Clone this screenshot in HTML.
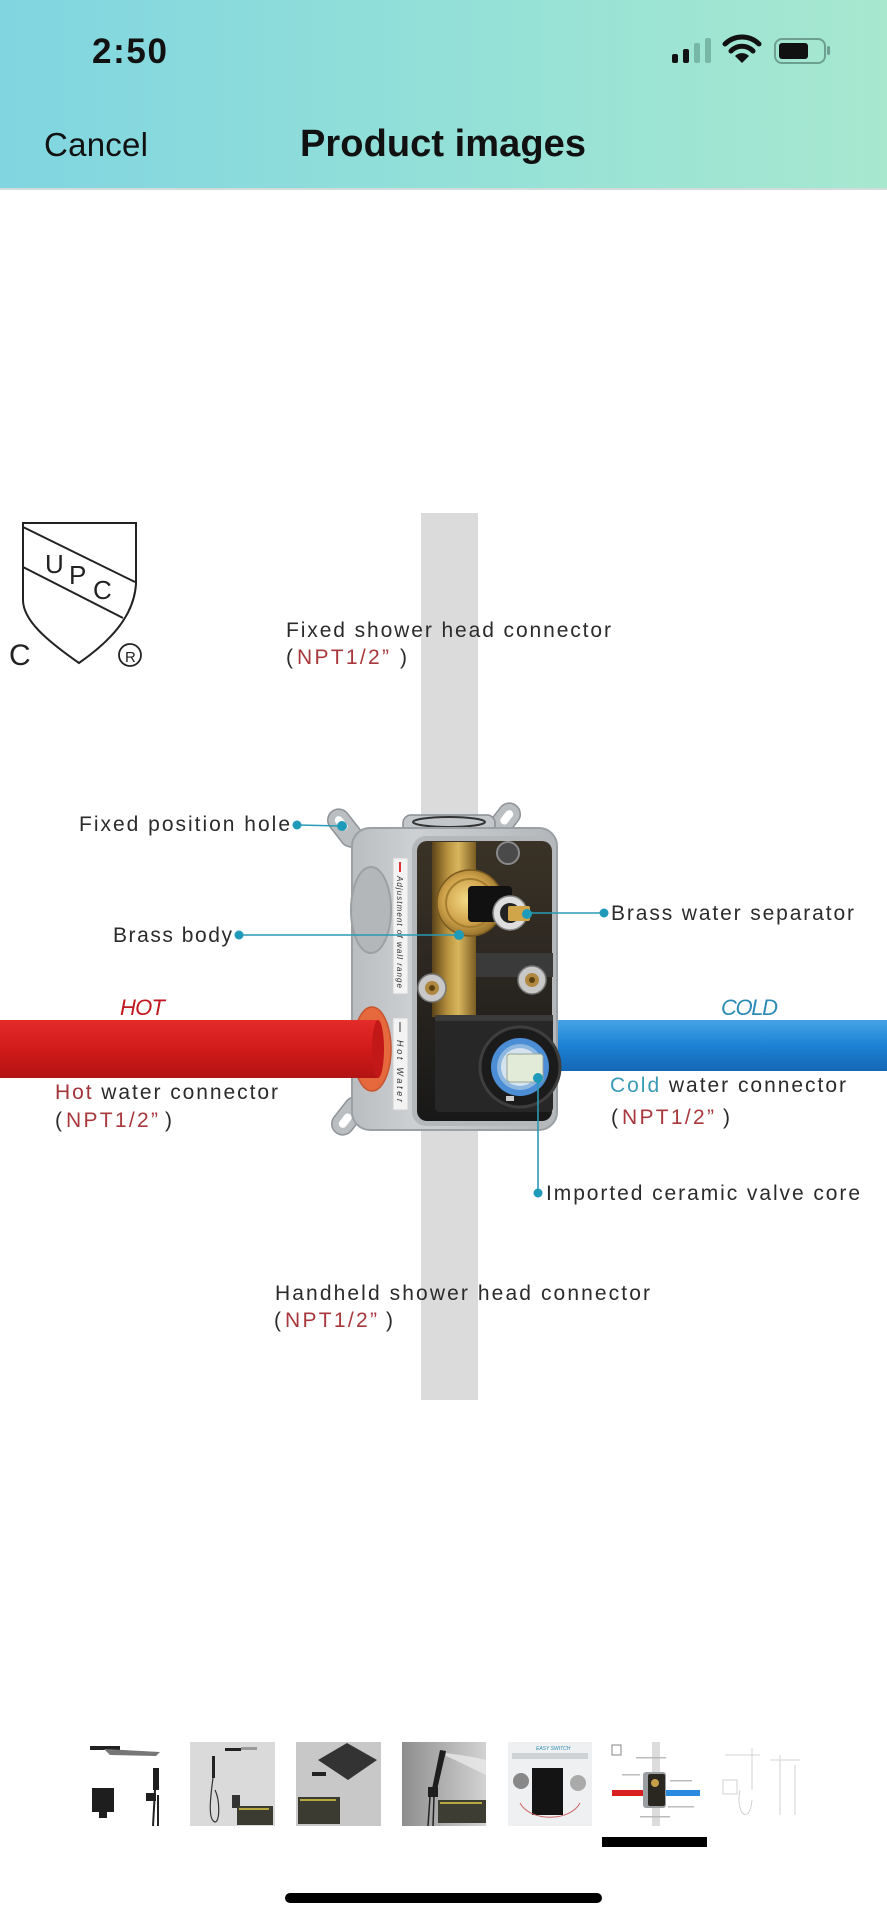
<!DOCTYPE html>
<html><head><meta charset="utf-8"><style>
html,body{margin:0;padding:0;background:#fff;}
body{width:887px;height:1920px;overflow:hidden;}
svg{display:block;}
text{font-family:"Liberation Sans",sans-serif;}
</style></head><body>
<svg width="887" height="1920" viewBox="0 0 887 1920" xmlns="http://www.w3.org/2000/svg">
<defs>
 <linearGradient id="hdr" x1="0" y1="0" x2="1" y2="0">
  <stop offset="0" stop-color="#80d5e0"/>
  <stop offset="0.5" stop-color="#93e0d8"/>
  <stop offset="1" stop-color="#a7e8cf"/>
 </linearGradient>
 <linearGradient id="red" x1="0" y1="0" x2="0" y2="1">
  <stop offset="0" stop-color="#e42c2a"/><stop offset="0.5" stop-color="#d11a1a"/><stop offset="1" stop-color="#b31313"/>
 </linearGradient>
 <linearGradient id="blue" x1="0" y1="0" x2="0" y2="1">
  <stop offset="0" stop-color="#45a4e6"/><stop offset="0.5" stop-color="#1d82d4"/><stop offset="1" stop-color="#1567b6"/>
 </linearGradient>
 <linearGradient id="box" x1="0" y1="0" x2="1" y2="0">
  <stop offset="0" stop-color="#b9bdc0"/><stop offset="0.3" stop-color="#cdd0d3"/><stop offset="1" stop-color="#b3b7ba"/>
 </linearGradient>
 <linearGradient id="cav" x1="0" y1="0" x2="0" y2="1">
  <stop offset="0" stop-color="#3a3226"/><stop offset="0.5" stop-color="#2a2620"/><stop offset="1" stop-color="#181818"/>
 </linearGradient>
 <linearGradient id="brass" x1="0" y1="0" x2="1" y2="0">
  <stop offset="0" stop-color="#5a4318"/><stop offset="0.35" stop-color="#b8913e"/><stop offset="0.6" stop-color="#d8b65e"/><stop offset="1" stop-color="#7a5c22"/>
 </linearGradient>
 <radialGradient id="nut" cx="0.45" cy="0.45" r="0.6">
  <stop offset="0" stop-color="#f3d985"/><stop offset="0.6" stop-color="#cfa24a"/><stop offset="1" stop-color="#8a6826"/>
 </radialGradient>
 <linearGradient id="t4" x1="0" y1="0" x2="1" y2="0">
  <stop offset="0" stop-color="#8e8e8e"/><stop offset="1" stop-color="#d2d2d2"/>
 </linearGradient>
</defs>

<rect width="887" height="1920" fill="#fff"/>

<!-- Header -->
<rect width="887" height="189" fill="url(#hdr)"/>
<rect y="188" width="887" height="2" fill="#d3dcdc"/>
<text x="92" y="63" font-size="35" font-weight="700" fill="#111" textLength="75">2:50</text>
<!-- signal -->
<rect x="672" y="54" width="6" height="9" rx="2" fill="#111"/>
<rect x="683" y="49" width="6" height="14" rx="2" fill="#111"/>
<rect x="694" y="43" width="6" height="20" rx="2" fill="#77b7a6"/>
<rect x="705" y="38" width="6" height="25" rx="2" fill="#77b7a6"/>
<!-- wifi -->
<path d="M725 44 A24 24 0 0 1 759 44" fill="none" stroke="#111" stroke-width="5" stroke-linecap="round"/>
<path d="M731 51 A15 15 0 0 1 753 51" fill="none" stroke="#111" stroke-width="5" stroke-linecap="round"/>
<path d="M735 56 L742 63 L749 56 A10 10 0 0 0 735 56 Z" fill="#111"/>
<!-- battery -->
<rect x="775" y="39" width="50" height="24" rx="7" fill="none" stroke="#6d9f90" stroke-width="2"/>
<rect x="779" y="43" width="29" height="16" rx="3" fill="#111"/>
<rect x="827" y="46" width="3" height="9" rx="1.5" fill="#6d9f90"/>
<text x="44" y="156" font-size="33" fill="#111" textLength="104">Cancel</text>
<text x="300" y="156" font-size="38" font-weight="700" fill="#111" textLength="286">Product images</text>

<!-- UPC logo -->
<path d="M23 523 L136 523 L136 584 C134 615 112 640 79 663 C46 640 23 620 23 600 Z" fill="#fff" stroke="#222" stroke-width="2"/>
<line x1="23" y1="527" x2="135" y2="582" stroke="#222" stroke-width="2"/>
<line x1="23" y1="567" x2="123" y2="618" stroke="#222" stroke-width="2"/>
<text x="45" y="573" font-size="26" fill="#222">U</text>
<text x="69" y="584" font-size="26" fill="#222">P</text>
<text x="93" y="599" font-size="26" fill="#222">C</text>
<text x="9" y="665" font-size="30" fill="#222">C</text>
<circle cx="130" cy="655" r="11" fill="none" stroke="#222" stroke-width="1.8"/>
<text x="125" y="662" font-size="15" fill="#222">R</text>

<!-- vertical pipe -->
<rect x="421" y="513" width="57" height="887" fill="#dbdbdb"/>

<!-- blue pipe (behind box) -->
<rect x="545" y="1020" width="342" height="51" fill="url(#blue)"/>

<!-- ears -->
<g transform="translate(348,832) rotate(-38)">
 <rect x="-11" y="-26" width="22" height="42" rx="11" fill="#babec1" stroke="#8e9296" stroke-width="1.5"/>
 <rect x="-4" y="-19" width="8" height="16" rx="4" fill="#fff"/>
</g>
<g transform="translate(500,826) rotate(38)">
 <rect x="-11" y="-26" width="22" height="42" rx="11" fill="#babec1" stroke="#8e9296" stroke-width="1.5"/>
 <rect x="-4" y="-19" width="8" height="16" rx="4" fill="#fff"/>
</g>
<g transform="translate(352,1112) rotate(-142)">
 <rect x="-11" y="-26" width="22" height="42" rx="11" fill="#babec1" stroke="#8e9296" stroke-width="1.5"/>
 <rect x="-4" y="-19" width="8" height="16" rx="4" fill="#fff"/>
</g>

<!-- top collar -->
<rect x="403" y="815" width="92" height="22" rx="8" fill="#c3c7ca" stroke="#8a8e92" stroke-width="1.5"/>
<ellipse cx="449" cy="822" rx="36" ry="5" fill="none" stroke="#333" stroke-width="2"/>

<!-- box body -->
<rect x="352" y="828" width="205" height="302" rx="18" fill="url(#box)" stroke="#9aa0a4" stroke-width="2"/>
<rect x="412" y="836" width="144" height="290" rx="14" fill="#b4b8bb"/>
<rect x="417" y="841" width="135" height="280" rx="10" fill="url(#cav)"/>

<!-- inside parts -->
<rect x="473" y="953" width="80" height="24" fill="#3a3a3a"/>
<rect x="432" y="842" width="44" height="175" fill="url(#brass)"/>
<circle cx="508" cy="853" r="11" fill="#4a4a4a" stroke="#8a8a8a" stroke-width="2"/>
<circle cx="470" cy="903" r="33" fill="url(#nut)" stroke="#7a5a20" stroke-width="1.5"/>
<circle cx="470" cy="903" r="24" fill="none" stroke="#a47c30" stroke-width="2"/>
<rect x="468" y="886" width="44" height="36" rx="4" fill="#111"/>
<circle cx="510" cy="913" r="17" fill="#dedede" stroke="#888" stroke-width="1.5"/>
<circle cx="510" cy="913" r="10" fill="#222"/>
<rect x="508" y="906" width="22" height="15" rx="2" fill="#d0a448"/>
<circle cx="432" cy="988" r="14" fill="#c8c8c8" stroke="#777" stroke-width="1.5"/>
<circle cx="432" cy="988" r="7" fill="#b08840"/>
<circle cx="432" cy="988" r="3" fill="#5a4010"/>
<circle cx="532" cy="980" r="14" fill="#c8c8c8" stroke="#777" stroke-width="1.5"/>
<circle cx="532" cy="980" r="7" fill="#b08840"/>
<circle cx="532" cy="980" r="3" fill="#5a4010"/>

<!-- black block with ceramic core -->
<rect x="435" y="1015" width="118" height="97" rx="4" fill="#272727"/>
<rect x="435" y="1015" width="118" height="6" fill="#3a3a3a"/>
<circle cx="520" cy="1067" r="40" fill="#1b1b1b" stroke="#3e3e3e" stroke-width="3"/>
<circle cx="520" cy="1067" r="29" fill="#4b8ed6"/>
<circle cx="520" cy="1067" r="23" fill="#8fb8e0"/>
<circle cx="520" cy="1067" r="19" fill="#d5e3ee"/>
<rect x="507" y="1054" width="36" height="28" rx="3" fill="#e2ead8" stroke="#9aa79a" stroke-width="1"/>
<rect x="506" y="1096" width="8" height="5" fill="#ccc"/>

<!-- left face details -->
<ellipse cx="371" cy="910" rx="20" ry="43" fill="#b3b7ba" stroke="#9ca0a3" stroke-width="2"/>
<rect x="393" y="858" width="15" height="136" fill="#f3f3f3" stroke="#cfcfcf" stroke-width="1"/>
<rect x="393" y="1018" width="15" height="92" fill="#f3f3f3" stroke="#cfcfcf" stroke-width="1"/>
<path d="M400 862 L400 872" stroke="#d33" stroke-width="2"/>
<text transform="translate(397,876) rotate(90)" font-size="8" fill="#333" textLength="112" font-style="italic">Adjustment of wall range</text>
<path d="M400 1022 L400 1032" stroke="#333" stroke-width="1"/>
<text transform="translate(397,1040) rotate(90)" font-size="9" fill="#333" textLength="62" font-style="italic">Hot Water</text>

<!-- red pipe -->
<ellipse cx="372" cy="1049" rx="19" ry="42" fill="#e5693c" stroke="#c95430" stroke-width="1.5"/>
<rect x="0" y="1020" width="378" height="58" fill="url(#red)"/>
<ellipse cx="378" cy="1049" rx="6" ry="29" fill="#c21818"/>

<!-- connectors -->
<g stroke="#2a9ab5" stroke-width="1.6" fill="none">
 <line x1="297" y1="825" x2="342" y2="826"/>
 <line x1="239" y1="935" x2="459" y2="935"/>
 <line x1="604" y1="913" x2="527" y2="913"/>
 <line x1="538" y1="1078" x2="538" y2="1193"/>
</g>
<g fill="#1f9ab8">
 <circle cx="297" cy="825" r="4.5"/><circle cx="342" cy="826" r="5"/>
 <circle cx="239" cy="935" r="4.5"/><circle cx="459" cy="935" r="5"/>
 <circle cx="604" cy="913" r="4.5"/><circle cx="527" cy="914" r="5"/>
 <circle cx="538" cy="1078" r="5"/><circle cx="538" cy="1193" r="4.5"/>
</g>

<!-- labels -->
<g font-size="21" fill="#2b2b2b">
 <text x="286" y="637" textLength="325">Fixed shower head connector</text>
 <text x="286" y="664">(</text><text x="297" y="664" fill="#a8383c" textLength="92">NPT1/2”</text><text x="400" y="664">)</text>

 <text x="79" y="831" textLength="211">Fixed position hole</text>
 <text x="113" y="942" textLength="119">Brass body</text>
 <text x="611" y="920" textLength="243">Brass water separator</text>

 <text x="55" y="1099" textLength="223"><tspan fill="#a0353a">Hot</tspan> water connector</text>
 <text x="55" y="1127">(</text><text x="66" y="1127" fill="#a8383c" textLength="92">NPT1/2”</text><text x="165" y="1127">)</text>

 <text x="610" y="1092" textLength="236"><tspan fill="#3a9ab8">Cold</tspan> water connector</text>
 <text x="611" y="1124">(</text><text x="622" y="1124" fill="#a8383c" textLength="92">NPT1/2”</text><text x="723" y="1124">)</text>

 <text x="546" y="1200" textLength="314">Imported ceramic valve core</text>

 <text x="275" y="1300" textLength="375">Handheld shower head connector</text>
 <text x="274" y="1327">(</text><text x="285" y="1327" fill="#a8383c" textLength="92">NPT1/2”</text><text x="386" y="1327">)</text>
</g>
<text x="120" y="1015" font-size="22" font-style="italic" fill="#c0181e" textLength="45">HOT</text>
<text x="721" y="1015" font-size="22" font-style="italic" fill="#2d8cb5" textLength="57">COLD</text>

<!-- thumbnails -->
<!-- 1 -->
<rect x="90" y="1746" width="30" height="4" fill="#222"/>
<polygon points="104,1749 160,1752 156,1756 110,1755" fill="#777"/>
<rect x="92" y="1788" width="22" height="24" fill="#1e1e1e"/>
<rect x="99" y="1806" width="8" height="12" fill="#1e1e1e"/>
<rect x="153" y="1768" width="6" height="22" fill="#1e1e1e"/>
<rect x="146" y="1793" width="10" height="8" fill="#1e1e1e"/>
<line x1="155" y1="1790" x2="153" y2="1826" stroke="#222" stroke-width="2"/>
<line x1="158" y1="1795" x2="158" y2="1826" stroke="#222" stroke-width="2"/>
<!-- 2 -->
<rect x="190" y="1742" width="85" height="84" fill="#dadada"/>
<rect x="225" y="1748" width="16" height="3" fill="#222"/>
<rect x="241" y="1747" width="16" height="3" fill="#999"/>
<rect x="212" y="1756" width="3" height="22" fill="#222"/>
<path d="M213 1778 C210 1800 208 1820 215 1822 C220 1822 220 1800 215 1790" fill="none" stroke="#333" stroke-width="1.2"/>
<rect x="232" y="1795" width="8" height="13" fill="#333"/>
<rect x="237" y="1806" width="36" height="19" fill="#3b3b32"/>
<rect x="239" y="1808" width="30" height="2" fill="#b8a840"/>
<!-- 3 -->
<rect x="296" y="1742" width="85" height="84" fill="#c8c8c8"/>
<polygon points="318,1760 347,1743 377,1760 348,1780" fill="#333"/>
<rect x="312" y="1772" width="14" height="4" fill="#222"/>
<rect x="298" y="1797" width="42" height="27" fill="#3b3b32"/>
<rect x="300" y="1799" width="36" height="2" fill="#b8a840"/>
<!-- 4 -->
<rect x="402" y="1742" width="84" height="84" fill="url(#t4)"/>
<polygon points="440,1750 446,1751 437,1790 432,1789" fill="#1e1e1e"/>
<path d="M446 1756 C460 1762 475 1770 486 1775 L486 1760 C475 1757 460 1755 446 1753 Z" fill="#e8e8e8" opacity="0.8"/>
<rect x="428" y="1787" width="10" height="10" fill="#1e1e1e"/>
<line x1="430" y1="1797" x2="428" y2="1826" stroke="#222" stroke-width="1.5"/>
<line x1="434" y1="1797" x2="433" y2="1826" stroke="#222" stroke-width="1.5"/>
<rect x="438" y="1800" width="48" height="23" fill="#3d3d33"/>
<rect x="440" y="1802" width="42" height="2" fill="#b8a840"/>
<!-- 5 -->
<rect x="508" y="1742" width="84" height="84" fill="#eef0f1"/>
<text x="536" y="1750" font-size="5" fill="#2a8ab0" font-style="italic">EASY SWITCH</text>
<rect x="512" y="1753" width="76" height="6" fill="#cfd3d5"/>
<rect x="532" y="1768" width="31" height="47" fill="#141414"/>
<circle cx="521" cy="1781" r="8" fill="#888"/>
<circle cx="578" cy="1783" r="8" fill="#aaa"/>
<path d="M520 1803 C530 1822 570 1822 580 1803" fill="none" stroke="#c66" stroke-width="1"/>
<!-- 6 -->
<rect x="652" y="1742" width="8" height="84" fill="#dcdcdc"/>
<rect x="612" y="1790" width="33" height="6" fill="#d92020"/>
<rect x="666" y="1790" width="34" height="6" fill="#2a8ae0"/>
<rect x="643" y="1772" width="23" height="36" rx="3" fill="#9a9ea2"/>
<rect x="648" y="1774" width="17" height="32" rx="2" fill="#2a2620"/>
<circle cx="655" cy="1783" r="4" fill="#c9a04a"/>
<rect x="612" y="1745" width="9" height="10" fill="none" stroke="#666" stroke-width="0.8"/>
<g fill="#bbb"><rect x="636" y="1757" width="30" height="1.5"/><rect x="622" y="1774" width="18" height="1.5"/><rect x="670" y="1780" width="22" height="1.5"/><rect x="668" y="1806" width="26" height="1.5"/><rect x="640" y="1816" width="30" height="1.5"/></g>
<!-- 7 -->
<g stroke="#c8c8c8" stroke-width="0.8" fill="none">
 <line x1="725" y1="1755" x2="760" y2="1755"/>
 <line x1="752" y1="1748" x2="752" y2="1790"/>
 <path d="M740 1790 C735 1815 750 1825 752 1800"/>
 <rect x="723" y="1780" width="14" height="14"/>
 <line x1="780" y1="1755" x2="780" y2="1815"/>
 <line x1="770" y1="1760" x2="800" y2="1760"/>
 <line x1="795" y1="1765" x2="795" y2="1815"/>
</g>
<!-- selection bar -->
<rect x="602" y="1837" width="105" height="10" fill="#000"/>
<!-- home indicator -->
<rect x="285" y="1893" width="317" height="10" rx="5" fill="#000"/>
</svg>
</body></html>
